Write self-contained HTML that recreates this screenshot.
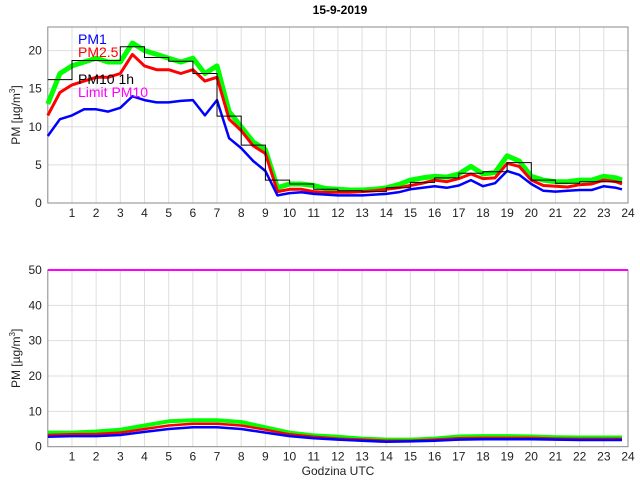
<!DOCTYPE html>
<html><head><meta charset="utf-8"><style>
body{margin:0;background:#fff;}
svg{font-family:"Liberation Sans",sans-serif;}
</style></head><body>
<svg id="c" width="640" height="480" xmlns="http://www.w3.org/2000/svg"></svg>
<script>
const tTop=[0,0.5,1,1.5,2,2.5,3,3.5,4,4.5,5,5.5,6,6.5,7,7.5,8,8.5,9,9.5,10,10.5,11,11.5,12,12.5,13,13.5,14,14.5,15,15.5,16,16.5,17,17.5,18,18.5,19,19.5,20,20.5,21,21.5,22,22.5,23,23.5,23.75];
const pm1Top=[8.8,11,11.5,12.3,12.3,12,12.5,14,13.5,13.2,13.2,13.4,13.5,11.5,13.5,8.5,7.2,5.5,4.2,1.0,1.3,1.4,1.2,1.1,1.0,1.0,1.0,1.1,1.2,1.4,1.8,2.0,2.2,2.0,2.3,3.0,2.2,2.6,4.2,3.7,2.5,1.6,1.5,1.6,1.7,1.7,2.2,2.0,1.8];
const pm25Top=[11.5,14.5,15.5,16,16.5,16.5,17,19.5,18,17.5,17.5,17,17.5,16,16.5,11,9.5,7.5,6.5,1.5,1.8,1.8,1.5,1.4,1.4,1.4,1.5,1.6,1.8,2.0,2.3,2.6,3.0,2.8,3.2,3.8,3.2,3.3,5.2,4.8,3.0,2.3,2.2,2.1,2.4,2.5,3.0,2.8,2.5];
const pm10Top=[13,17,18,18.5,19,18.5,18.5,21,20,19.5,19,18.5,19,17,18,12,10,8,7,2.0,2.5,2.5,2.3,1.9,1.8,1.7,1.7,1.8,2.0,2.4,3.0,3.3,3.5,3.4,3.8,4.8,3.8,4.0,6.2,5.5,3.5,3.0,2.8,2.8,3.0,3.0,3.5,3.3,3.0];
const pm10Hourly=[16.2,18.7,18.7,20.5,19.1,18.6,17,11.4,7.6,3.0,2.5,1.8,1.6,1.5,2.0,2.7,3.3,3.9,4.1,5.3,3.0,2.6,2.8,2.8];
const tBot=[0,1,2,3,4,5,6,7,8,9,10,11,12,13,14,15,16,17,18,19,20,21,22,23,23.75];
const pm1Bot=[2.8,3.0,3.0,3.3,4.2,5.0,5.5,5.5,5.0,4.0,3.0,2.4,2.0,1.7,1.4,1.5,1.7,2.0,2.1,2.1,2.1,2.0,1.9,1.9,1.9];
const pm25Bot=[3.3,3.5,3.6,4.0,5.0,6.0,6.5,6.5,6.0,4.8,3.5,2.8,2.3,2.0,1.7,1.7,2.0,2.4,2.5,2.5,2.5,2.3,2.2,2.2,2.2];
const pm10Bot=[4.0,4.0,4.3,4.8,6.0,7.2,7.5,7.5,7.0,5.5,4.0,3.2,2.8,2.3,2.0,2.0,2.3,2.9,3.0,3.0,2.9,2.7,2.6,2.6,2.6];
const limitPM10=50;
const xTicks=[1,2,3,4,5,6,7,8,9,10,11,12,13,14,15,16,17,18,19,20,21,22,23,24];
const yTicksTop=[0,5,10,15,20];
const yTicksBot=[0,10,20,30,40,50];

const NS="http://www.w3.org/2000/svg";
const svg=document.getElementById('c');
function mk(tag,attrs,parent){const e=document.createElementNS(NS,tag);for(const k in attrs)e.setAttribute(k,attrs[k]);(parent||svg).appendChild(e);return e;}
const X0=47.8,X1=628.0;
const x=t=>X0+t*(X1-X0)/24;

function axes(name,top,bottom,ymax,yticks){
  const g=mk('g',{});
  
  
  const y=v=>bottom-v*(bottom-top)/ymax;
  xTicks.forEach(t=>{if(t<24){const l=mk('line',{x1:x(t),x2:x(t),y1:top,y2:bottom,stroke:'#dedede','stroke-width':1},g);}
    const tx=mk('text',{x:x(t),y:bottom+14,'font-size':12,'text-anchor':'middle',fill:'#222'},g);tx.textContent=t;
    });
  yticks.forEach(v=>{if(v>0&&v<ymax){const l=mk('line',{x1:X0,x2:X1,y1:y(v),y2:y(v),stroke:'#dedede','stroke-width':1},g);}
    const tx=mk('text',{x:X0-6,y:y(v)+4,'font-size':12,'text-anchor':'end',fill:'#222'},g);tx.textContent=v;
    });
  const r=mk('rect',{x:X0,y:top,width:X1-X0,height:bottom-top,fill:'none',stroke:'#888','stroke-width':1},g);
  
  const yl=mk('text',{transform:`translate(20,${(top+bottom)/2}) rotate(-90)`,'font-size':12,'text-anchor':'middle',fill:'#222'},g);
  yl.innerHTML='PM [µg/m<tspan dy="-5" font-size="8">3</tspan><tspan dy="5">]</tspan>';
  
  return y;
}
function line(name,ts,vs,y,color,w){
  const d=ts.map((t,i)=>(i?'L':'M')+x(t).toFixed(1)+','+y(vs[i]).toFixed(1)).join('');
  const p=mk('path',{d:d,fill:'none',stroke:color,'stroke-width':w,'stroke-linejoin':'round'});
  
}
// top
const yT=axes('top-axes',27,203,23.1,yTicksTop);
line('pm10-line',tTop,pm10Top,yT,'#00ff00',5);
line('pm25-line',tTop,pm25Top,yT,'#ff0000',3);
line('pm1-line',tTop,pm1Top,yT,'#0000ff',2.5);
let d='';pm10Hourly.forEach((v,i)=>{d+=(i?'L':'M')+x(i).toFixed(1)+','+yT(v).toFixed(1)+'L'+x(Math.min(i+1,23.75)).toFixed(1)+','+yT(v).toFixed(1);});
const st=mk('path',{d:d,fill:'none',stroke:'#000','stroke-width':1});

// legend
const leg=[['PM1','#0000ff',44],['PM2.5','#ff0000',57],['PM10 1h','#000',84],['Limit PM10','#ff00ff',97]];
leg.forEach(l=>{const t=mk('text',{x:78,y:l[2],'font-size':14,fill:l[1]});t.textContent=l[0];
  });
const title=mk('text',{x:340,y:14,'font-size':12,'font-weight':'bold','text-anchor':'middle',fill:'#000'});
title.textContent='15-9-2019';

// bottom
const yB=axes('bottom-axes',270,446.7,50,yTicksBot);
line('pm10-avg-line',tBot,pm10Bot,yB,'#00ff00',4);
line('pm25-avg-line',tBot,pm25Bot,yB,'#ff0000',2.5);
line('pm1-avg-line',tBot,pm1Bot,yB,'#0000ff',2.5);
const lim=mk('line',{x1:X0,x2:X1,y1:yB(limitPM10),y2:yB(limitPM10),stroke:'#ff00ff','stroke-width':2});

const xl=mk('text',{x:338,y:475,'font-size':12,'text-anchor':'middle',fill:'#222'});
xl.textContent='Godzina UTC';

</script>
</body></html>
